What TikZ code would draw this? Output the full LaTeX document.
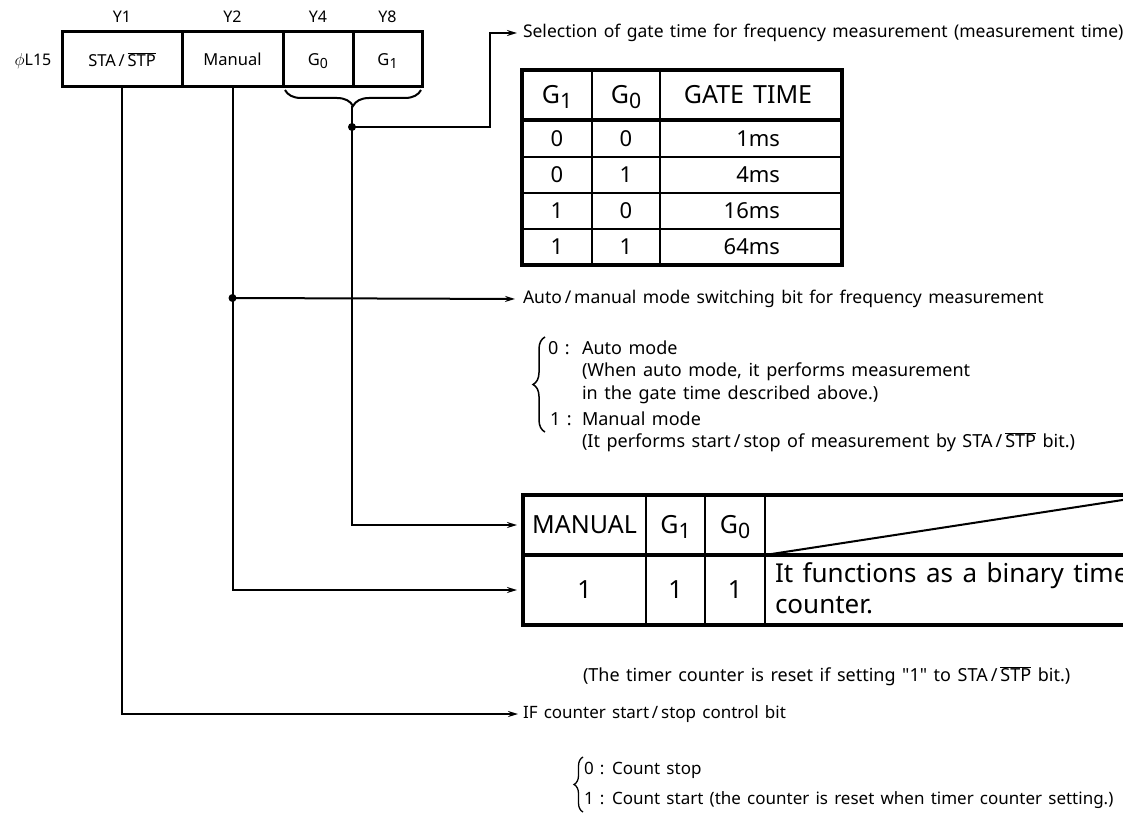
\documentclass[tikz,border=0pt]{standalone}
\usepackage{fontspec}
\setmainfont{Noto Sans}[WordSpace=1.4, Ligatures=TeXOff]
\usetikzlibrary{arrows.meta,decorations.pathreplacing}
\newcommand\sz[1]{\fontsize{#1}{#1}\selectfont}
\newcommand\Gs[1]{G\raisebox{-0.35ex}[0pt][0pt]{\scalebox{0.85}{#1}}}
\newcommand\stpbar{$\overline{\mbox{STP}}$}
\begin{document}
\begin{tikzpicture}[x=1pt,y=-1pt,
  every node/.style={inner sep=0pt, outer sep=0pt},
  cell/.style={draw, line width=3pt, minimum height=55pt, font=\sz{16.5}},
  lbl/.style={font=\sz{16}},
  txt/.style={anchor=west, font=\sz{17.5}},
  btxt/.style={anchor=west, font=\sz{18}},
  stxt/.style={anchor=west, font=\sz{17}},
  conn/.style={line width=2pt},
  arr/.style={conn, -{Stealth[length=10pt,width=6pt]}},
  dot/.style={circle, fill, minimum size=8pt},
  tone/.style={font=\sz{22}},
  thead/.style={font=\sz{25}},
  ttwo/.style={font=\sz{25}},
  bcell/.style={ttwo, minimum width=#1},
  thin/.style={line width=2pt},
  thick/.style={line width=4pt},
  brc/.style={line width=1.5pt, decorate, decoration={brace, amplitude=#1}},
]
\useasboundingbox (0,0) rectangle (1123,821);
\clip (0,0) rectangle (1123,821);

% register
\node[cell, minimum width=120pt] (sta) at (122,59.5) {STA\,/\,\stpbar};
\node[cell, minimum width=101pt] (man) at (232.5,59.5) {Manual};
\node[cell, minimum width=70pt] (g0) at (318,59.5) {\Gs{0}};
\node[cell, minimum width=69pt] (g1) at (387.5,59.5) {\Gs{1}};
\node[lbl] (y1) at (122,17) {Y1};
\node[lbl] (y2) at (232.5,17) {Y2};
\node[lbl] (y4) at (318,17) {Y4};
\node[lbl] (y8) at (387.5,17) {Y8};
\node[lbl] (phi) at (33,61) {$\phi$L15};
\draw[line width=2pt, decorate, decoration={brace, amplitude=16pt}] (421,90) -- (285,90);
\coordinate (gtip) at (352,106);
\node[dot] (gdot) at (352,127) {};
\node[dot] (mdot) at (232.5,298) {};

% texts
\node[txt] (sel) at (523,33) {Selection of gate time for frequency measurement (measurement time)};
\node[txt] (auto) at (523,299) {Auto\,/\,manual mode switching bit for frequency measurement};
\draw[brc=12pt] (545,432) -- (545,337);
\node[btxt] (m0) at (548,348) {0 :};
\node[btxt] (m0t) at (582,348) {Auto mode};
\node[btxt] (m0a) at (582,372) {(When auto mode, it performs measurement};
\node[btxt] (m0b) at (582,395) {in the gate time described above.)};
\node[btxt] (m1) at (550,419) {1 :};
\node[btxt] (m1t) at (582,419) {Manual mode};
\node[btxt] (m1a) at (582,442) {(It performs start\,/\,stop of measurement by STA\,/\,\stpbar\ bit.)};
\node[btxt] (reset) at (583,676) {(The timer counter is reset if setting "1" to STA\,/\,\stpbar\ bit.)};
\node[stxt] (ifc) at (523,714) {IF counter start\,/\,stop control bit};
\draw[brc=9pt, line width=1.3pt] (583,812) -- (583,757);
\node[stxt] (c0) at (584,770) {0 : Count stop};
\node[stxt] (c1) at (584,800) {1 : Count start (the counter is reset when timer counter setting.)};

% gate time table
\draw[thin] (592,70) -- (592,265) (660,70) -- (660,265)
  (522,157) -- (842,157) (522,193) -- (842,193) (522,229) -- (842,229);
\draw[thick] (522,70) rectangle (842,265);
\draw[thick] (522,120) -- (842,120);
\node[thead] (h1) at (557,95) {\Gs{1}};
\node[thead] (h0) at (626,95) {\Gs{0}};
\node[thead] (ht) at (748,95) {GATE TIME};
\node[tone] (r1a) at (557,138.5) {0};
\node[tone] (r1b) at (626,138.5) {0};
\node[tone, anchor=east] (r1c) at (780,138.5) {1ms};
\node[tone] (r2a) at (557,175) {0};
\node[tone] (r2b) at (626,175) {1};
\node[tone, anchor=east] (r2c) at (780,175) {4ms};
\node[tone] (r3a) at (557,211) {1};
\node[tone] (r3b) at (626,211) {0};
\node[tone, anchor=east] (r3c) at (780,211) {16ms};
\node[tone] (r4a) at (557,247) {1};
\node[tone] (r4b) at (626,247) {1};
\node[tone, anchor=east] (r4c) at (780,247) {64ms};

% manual table
\draw[thin] (646,495) -- (646,625) (705,495) -- (705,625) (765,495) -- (765,625);
\draw[thin] (765,555) -- (1155,495);
\draw[thick] (1160,495) -- (523,495) -- (523,625) -- (1160,625);
\draw[thick] (523,555) -- (1160,555);
\node[bcell=123pt] (mh) at (584.5,525) {MANUAL};
\node[ttwo] (bg1) at (675.5,525) {\Gs{1}};
\node[ttwo] (bg0) at (735,525) {\Gs{0}};
\node[bcell=123pt] (mr) at (584.5,590) {1};
\node[ttwo] (b1) at (675.5,590) {1};
\node[ttwo] (b0) at (735,590) {1};
\node[anchor=west, align=left, font=\fontsize{26}{31}\selectfont] (desc) at (775,588) {It functions as a binary timer\\counter.};

% connectors
\draw[conn] (gtip) -- (gdot.center);
\draw[arr, shorten >=6pt] (gdot.center) -- (490,127) |- (sel.west);
\draw[arr, shorten >=6pt] (gdot.center) |- (mh.west);
\draw[arr, shorten >=6pt] (man.south) |- (mr.west);
\draw[arr, shorten >=8pt] (mdot.center) -- (auto.west);
\draw[arr, shorten >=5pt] (sta.south) |- (ifc.west);
\end{tikzpicture}
\end{document}
